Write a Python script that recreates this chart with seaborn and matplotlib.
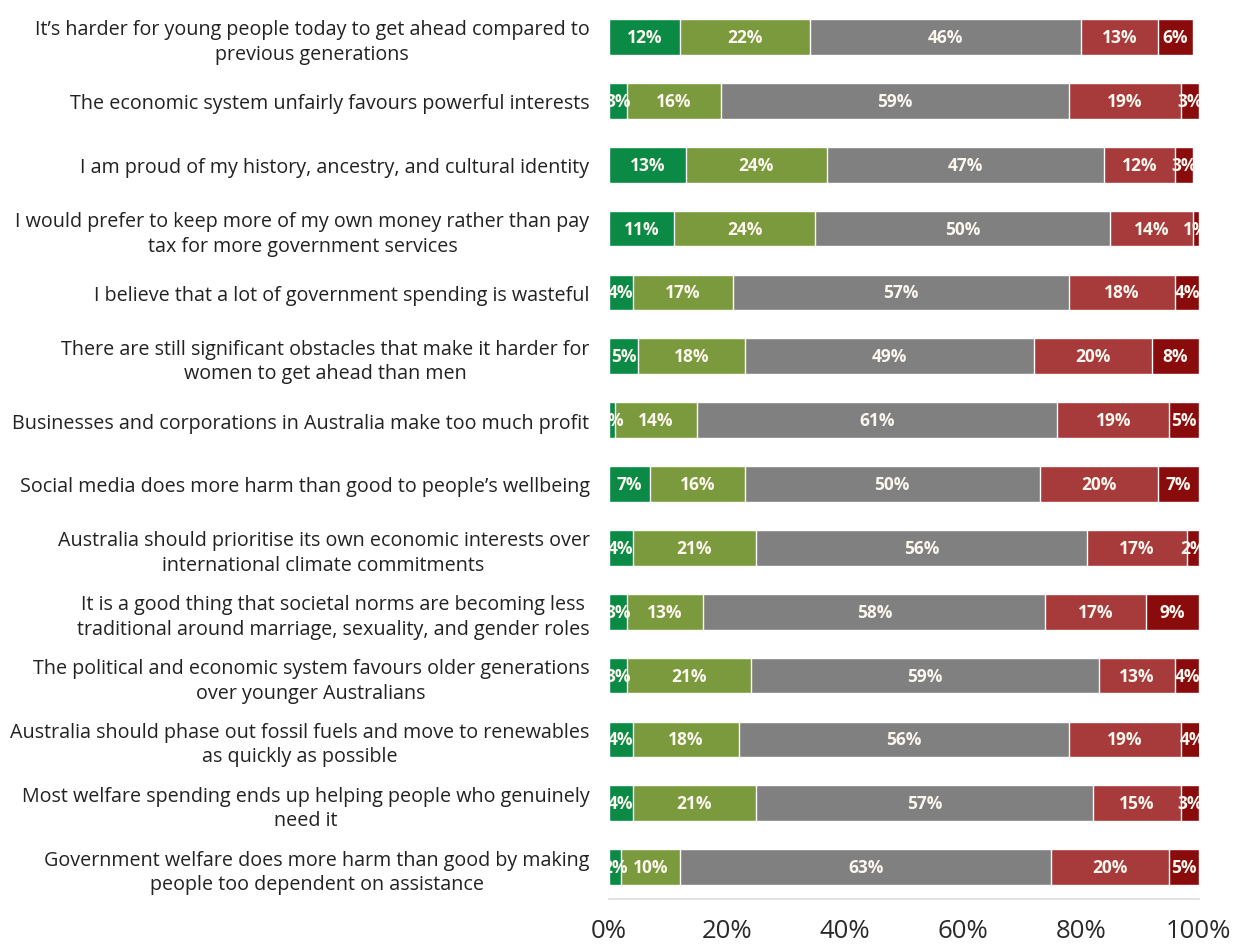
import numpy as np
import pandas as pd
import matplotlib
matplotlib.use("Agg")
import matplotlib.pyplot as plt
import seaborn as sns

statements = [
    "It\u2019s harder for young people today to get ahead compared to\nprevious generations",
    "The economic system unfairly favours powerful interests",
    "I am proud of my history, ancestry, and cultural identity",
    "I would prefer to keep more of my own money rather than pay\ntax for more government services",
    "I believe that a lot of government spending is wasteful",
    "There are still significant obstacles that make it harder for\nwomen to get ahead than men",
    "Businesses and corporations in Australia make too much profit",
    "Social media does more harm than good to people\u2019s wellbeing",
    "Australia should prioritise its own economic interests over\ninternational climate commitments",
    "It is a good thing that societal norms are becoming less\ntraditional around marriage, sexuality, and gender roles",
    "The political and economic system favours older generations\nover younger Australians",
    "Australia should phase out fossil fuels and move to renewables\nas quickly as possible",
    "Most welfare spending ends up helping people who genuinely\nneed it",
    "Government welfare does more harm than good by making\npeople too dependent on assistance",
]

seg1 = [12, 3, 13, 11, 4, 5, 1, 7, 4, 3, 3, 4, 4, 2]
seg2 = [22, 16, 24, 24, 17, 18, 14, 16, 21, 13, 21, 18, 21, 10]
seg3 = [46, 59, 47, 50, 57, 49, 61, 50, 56, 58, 59, 56, 57, 63]
seg4 = [13, 19, 12, 14, 18, 20, 19, 20, 17, 17, 13, 19, 15, 20]
seg5 = [6, 3, 3, 1, 4, 8, 5, 7, 2, 9, 4, 4, 3, 5]

tick_values = [0, 20, 40, 60, 80, 100]
tick_labels = ["0%", "20%", "40%", "60%", "80%", "100%"]

colors = ["#0b8a45", "#7b9a3d", "#808080", "#a73a3a", "#8a0b0c"]

sns.set_theme(style="white")
plt.rcParams["font.family"] = ["Open Sans", "DejaVu Sans"]

fig = plt.figure(figsize=(12.34, 9.45), dpi=100)
ax = fig.add_axes([0.4935, 0.0476, 0.478, 0.946])

segs = [seg1, seg2, seg3, seg4, seg5]
vals = np.array(segs, dtype=float)
cum = np.cumsum(vals, axis=0)

for i in reversed(range(5)):
    df = pd.DataFrame({"statement": statements, "value": cum[i]})
    sns.barplot(data=df, x="value", y="statement", color=colors[i],
                orient="h", width=0.56, saturation=1, ax=ax, order=statements)

for i in range(5):
    for r in range(len(statements)):
        center = cum[i][r] - vals[i][r] / 2
        ax.text(center, r, f"{int(vals[i][r])}%", ha="center", va="center",
                color="#fbf6ee", fontsize=12.5, fontweight="bold", clip_on=True)

ax.set_xlim(0, 100)
ax.set_ylim(len(statements) - 0.5, -0.5)
ax.set_xticks(tick_values)
ax.set_xticklabels(tick_labels, fontsize=18.5, color="#2a2a2a")
ax.set_xlabel("")
ax.set_ylabel("")
for lab in ax.get_yticklabels():
    lab.set_multialignment("center")
    lab.set_fontsize(14.2)
    lab.set_linespacing(1.3)
    lab.set_color("#222222")
ax.tick_params(axis="y", length=0, pad=14)
ax.tick_params(axis="x", length=0, pad=14)
for s in ["top", "right", "left"]:
    ax.spines[s].set_visible(False)
ax.spines["bottom"].set_color("#dddddd")
ax.spines["bottom"].set_linewidth(1.2)

fig.savefig("out.png", dpi=100)
